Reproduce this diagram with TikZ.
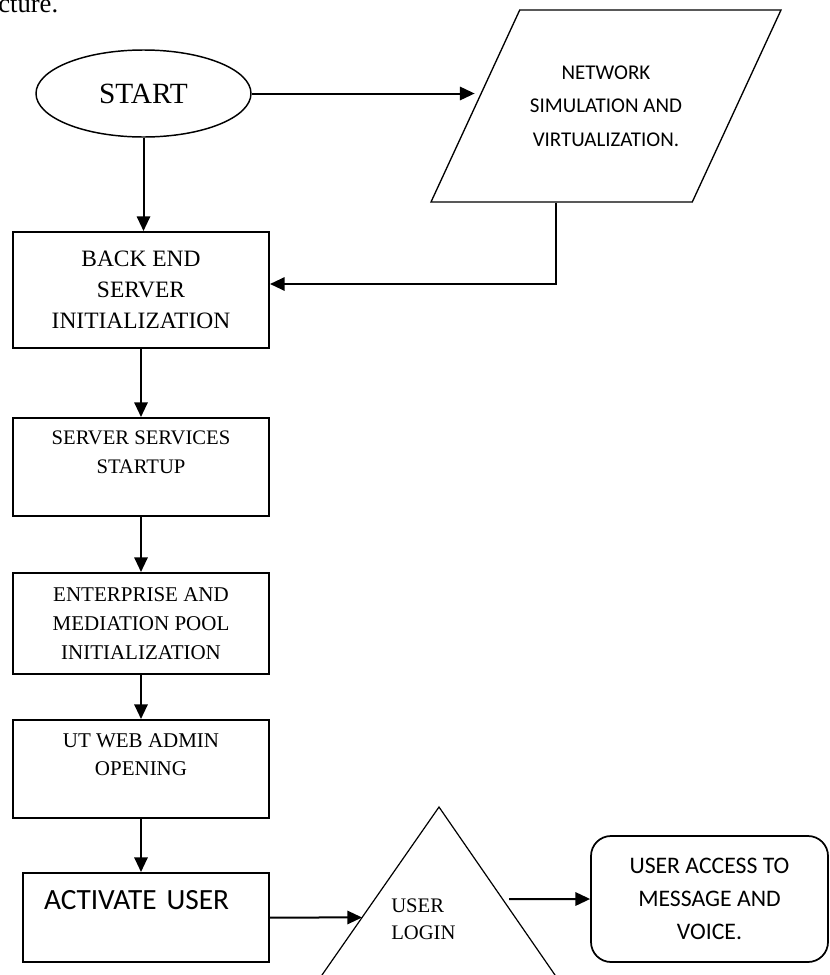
\documentclass[tikz,border=0pt]{standalone}
\usepackage{fontspec}
\setmainfont{Liberation Serif}
\newfontfamily\calib{Carlito}
\usetikzlibrary{shapes.geometric,arrows.meta,calc}

\tikzset{
	box/.style={draw, line width=1.5pt, minimum width=192pt, inner sep=0pt, align=center},
	arr/.style={line width=1.5pt, -{Triangle[length=11pt,width=10pt]}},
}

\begin{document}
\begin{tikzpicture}[x=0.75pt, y=-0.75pt]
		\useasboundingbox (0,0) rectangle (829,975);
		\clip (0,0) rectangle (829,975);
		\node[anchor=base west, inner sep=0pt, font=\fontsize{20}{24}\selectfont] (cap) at (-2,12) {cture.};
		\node[ellipse, draw, line width=1.1pt, minimum width=161.25pt, minimum height=65.25pt, inner sep=0pt, font=\fontsize{22}{26}\selectfont] (start) at (143.5,93.5) {START};
		\node[trapezium, trapezium left angle=42.2, trapezium right angle=137.8, trapezium stretches body=true, draw, line width=1pt, minimum width=262.5pt, minimum height=144pt, inner sep=0pt, align=center, font=\calib\fontsize{15.75}{25}\selectfont] (net) at (606,106) {NETWORK\\SIMULATION AND\\VIRTUALIZATION.};
		\coordinate (nd) at ($(net.bottom left corner)!0.48!(net.bottom right corner)$);
		\node[box, minimum height=87pt, font=\fontsize{17.6}{23.25}\selectfont] (be) at (141,290) {BACK END\\SERVER\\INITIALIZATION};
		\node[box, minimum height=73.5pt, font=\fontsize{15.5}{21.75}\selectfont] (ss) at (141,467) {SERVER SERVICES\\STARTUP\\\mbox{}};
		\node[box, minimum height=75.75pt, font=\fontsize{15.75}{21.75}\selectfont] (ent) at (141,623.5) {ENTERPRISE AND\\MEDIATION POOL\\INITIALIZATION};
		\node[box, minimum height=73.5pt, font=\fontsize{15.75}{21}\selectfont] (ut) at (141,769) {UT WEB ADMIN\\OPENING\\\mbox{}};
		\node[box, minimum width=184.5pt, minimum height=66.75pt, text width=153pt, inner xsep=15.75pt, align=left, font=\calib\fontsize{22}{26}\selectfont] (act) at (146,917.5) {ACTIVATE USER\\\mbox{}};
		% login triangle, cut off at the bottom
		\coordinate (apex) at (439,807);
		\coordinate (tl) at (298.6,1008.6);
		\coordinate (tr) at (578.2,1008.6);
		\draw[line width=0.9pt] (apex) -- (tl) -- (tr) -- cycle;
		\coordinate (lin) at ($(apex)!0.548!(tl)$);
		\coordinate (rout) at ($(apex)!0.4563!(tr)$);
		\node[anchor=west, inner sep=0pt, align=left, font=\fontsize{15.5}{20.25}\selectfont] (login) at (391,919) {USER\\LOGIN};
		\node[draw, rounded corners=15pt, line width=1.3pt, minimum width=177.75pt, minimum height=94.5pt, inner sep=0pt, align=center, font=\calib\fontsize{17.8}{25}\selectfont] (acc) at (709.5,899) {USER ACCESS TO\\MESSAGE AND\\VOICE.};
		\draw[arr] (start.east) -- (start.east -| net.west);
		\draw[arr] (start.south) -- (start.south |- be.north);
		\draw[arr] (nd) |- ([yshift=4.5pt]be.east);
		\draw[arr] (be) -- (ss);
		\draw[arr] (ss) -- (ent);
		\draw[arr] (ent) -- (ut);
		\draw[arr] (ut.south) -- (ut.south |- act.north);
		\draw[arr] (act.east) -- (lin);
		\draw[arr, shorten <=5pt] (rout) -- (acc.west);
\end{tikzpicture}
\end{document}
